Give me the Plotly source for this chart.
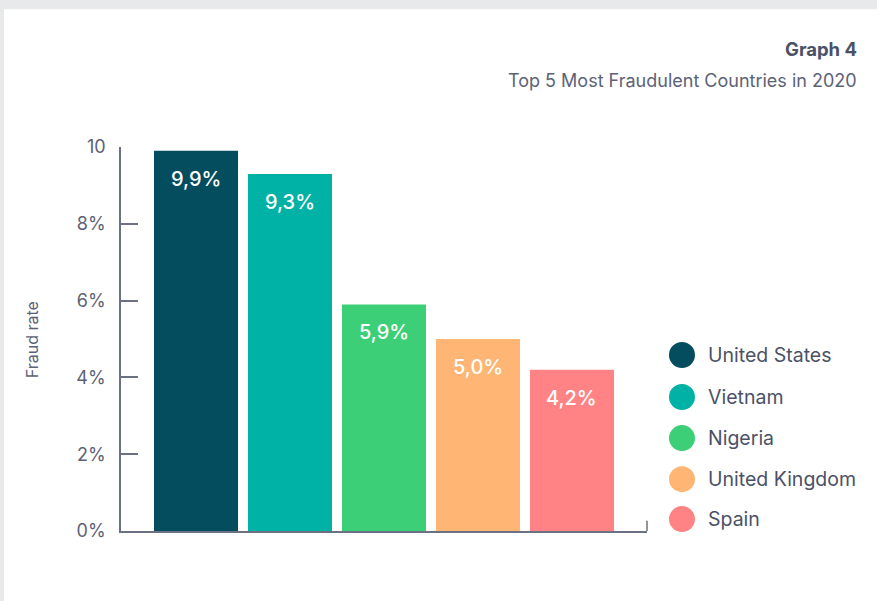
import plotly.graph_objects as go

countries = ["United States", "Vietnam", "Nigeria", "United Kingdom", "Spain"]
fraud_rate = [9.9, 9.3, 5.9, 5.0, 4.2]
value_labels = ["9,9%", "9,3%", "5,9%", "5,0%", "4,2%"]
colors = ["#034d5e", "#00b2a5", "#3ccf78", "#ffb573", "#ff8385"]
tick_vals = [0, 2, 4, 6, 8, 10]
tick_text = ["0%", "2%", "4%", "6%", "8%", "10"]

FONT = "Inter"
AXIS_COLOR = "#6b7083"
TEXT_COLOR = "#4b5167"

fig = go.Figure()
fig.add_trace(go.Bar(
    x=list(range(len(countries))), y=fraud_rate,
    marker=dict(color=colors, line=dict(width=0)),
    showlegend=False, hoverinfo="skip",
))

annotations = []
for i, (v, lab) in enumerate(zip(fraud_rate, value_labels)):
    annotations.append(dict(x=i, y=v, xref="x", yref="y", text=lab, showarrow=False,
                            yanchor="top", yshift=-14,
                            font=dict(family=FONT, size=20, color="white", weight=500)))

shapes = []
# background frame (gray top strip and left edge)
shapes.append(dict(type="rect", xref="paper", yref="paper", x0=-0.2225, x1=1.45, y0=-0.2, y1=1.359,
                   fillcolor="white", line=dict(width=0), layer="below"))
# small right end tick on x axis
shapes.append(dict(type="line", xref="paper", yref="paper", x0=1, x1=1, y0=0, y1=0.027,
                   line=dict(color=AXIS_COLOR, width=1.5)))

# legend (circles + labels)
leg_y = [0.4583, 0.349, 0.242, 0.135, 0.031]
for name, c, yy in zip(countries, colors, leg_y):
    shapes.append(dict(type="circle", xref="paper", yref="paper",
                       xsizemode="pixel", ysizemode="pixel",
                       xanchor=1.0665, yanchor=yy, x0=-13, x1=13, y0=-13, y1=13,
                       fillcolor=c, line=dict(width=0)))
    annotations.append(dict(x=1.112, y=yy, xref="paper", yref="paper", text=name,
                            showarrow=False, xanchor="left", yanchor="middle",
                            font=dict(family=FONT, size=19.5, color=TEXT_COLOR)))

annotations.append(dict(x=1.403, y=1.255, xref="paper", yref="paper", text="<b>Graph 4</b>",
                        showarrow=False, xanchor="right", yanchor="middle",
                        font=dict(family=FONT, size=18.5, color=TEXT_COLOR)))
annotations.append(dict(x=1.403, y=1.174, xref="paper", yref="paper",
                        text="Top 5 Most Fraudulent Countries in 2020",
                        showarrow=False, xanchor="right", yanchor="middle",
                        font=dict(family=FONT, size=18, color="#5c6275")))
annotations.append(dict(x=-0.169, y=0.497, xref="paper", yref="paper", text="Fraud rate",
                        showarrow=False, textangle=-90, xanchor="center", yanchor="middle",
                        font=dict(family=FONT, size=16, color="#5c6275")))

fig.update_layout(
    width=877, height=601,
    margin=dict(l=121, r=230, t=147, b=70),
    paper_bgcolor="#e8e9ea", plot_bgcolor="rgba(0,0,0,0)",
    bargap=0.106,
    xaxis=dict(range=[-0.798, 4.798], showticklabels=False, ticks="", showgrid=False,
               zeroline=False, showline=True, linecolor=AXIS_COLOR, linewidth=1.5, fixedrange=True),
    yaxis=dict(range=[0, 10], tickvals=tick_vals, ticktext=tick_text, ticks="inside",
               ticklen=17, tickwidth=1.5, tickcolor=AXIS_COLOR, showgrid=False, zeroline=False,
               showline=True, linecolor=AXIS_COLOR, linewidth=1.5,
               tickfont=dict(family=FONT, size=18, color="#5c6275"), ticklabelstandoff=10),
    shapes=shapes, annotations=annotations,
    showlegend=False,
)

fig.write_html("out.html")
